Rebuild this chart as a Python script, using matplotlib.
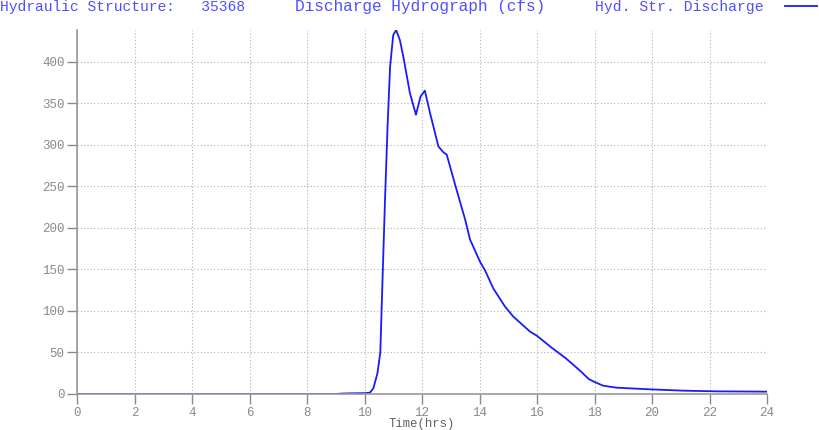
import matplotlib
matplotlib.use("Agg")
import matplotlib.pyplot as plt
from matplotlib.lines import Line2D

time_hrs = [0, 2, 4, 6, 8, 9.0, 9.2, 9.5, 10.0, 10.19, 10.31, 10.45, 10.55, 10.63, 10.71,
            10.8, 10.89, 11.0, 11.1, 11.23, 11.35, 11.58, 11.79, 11.95, 12.1, 12.28,
            12.57, 12.74, 12.86, 13.2, 13.5, 13.67, 14.02, 14.19, 14.48, 14.89, 15.18,
            15.76, 16.0, 16.5, 17.0, 17.5, 17.8, 17.97, 18.3, 18.77, 19.93, 21.1,
            22.25, 24.0]
discharge_cfs = [0, 0, 0, 0, 0, 0, 0.5, 0.8, 1.0, 1.6, 7, 25, 50, 141, 230,
                 320, 394, 432, 438, 426, 406, 362, 336, 358, 365, 338,
                 298, 291, 288, 246, 210, 186, 159, 149, 127, 105, 93,
                 75, 70, 56, 43, 28, 18, 15, 10, 7.6, 5.6, 4.0,
                 3.2, 2.8]
x_ticks = list(range(0, 25, 2))
y_ticks = list(range(0, 401, 50))

title_left = "Hydraulic Structure:   35368"
title_mid = "Discharge Hydrograph (cfs)"
legend_label = "Hyd. Str. Discharge"
x_label = "Time(hrs)"

mono = ["Liberation Mono", "DejaVu Sans Mono"]
blue_text = "#4f4fff"
line_blue = "#1a1aff"
gray = "#8a8a8a"

fig = plt.figure(figsize=(8.19, 4.30), dpi=100)
ax = fig.add_axes([77/819, 1-394/430, 690/819, 364/430])
ax.plot(time_hrs, discharge_cfs, color=line_blue, lw=1.3)
ax.set_xlim(0, 24)
ax.set_ylim(0, 438)
ax.set_xticks(x_ticks)
ax.set_yticks(y_ticks)
ax.grid(True, linestyle=(0, (1, 2)), color="#b0b0b0", lw=0.8)
for s in ["top", "right"]:
    ax.spines[s].set_visible(False)
for s in ["left", "bottom"]:
    ax.spines[s].set_color("#999999")
    ax.spines[s].set_linewidth(1.2)
ax.tick_params(colors=gray, length=7, width=1, labelsize=9.0, direction="out", pad=2)
for lab in ax.get_xticklabels() + ax.get_yticklabels():
    lab.set_family(mono)
    lab.set_color(gray)
ax.set_xlabel(x_label, family=mono, color="#606060", fontsize=8.8, labelpad=0)

fig.text(0/819, 1-7/430, title_left, family=mono, color=blue_text, fontsize=10.5, va="center", ha="left")
fig.text(295/819, 1-7/430, title_mid, family=mono, color=blue_text, fontsize=11.6, va="center", ha="left")
fig.text(595/819, 1-7/430, legend_label, family=mono, color=blue_text, fontsize=10.6, va="center", ha="left")
fig.add_artist(Line2D([785/819, 817/819], [1-6/430, 1-6/430], color=line_blue, lw=1.3,
                      transform=fig.transFigure))

fig.savefig("out.png", dpi=100)
